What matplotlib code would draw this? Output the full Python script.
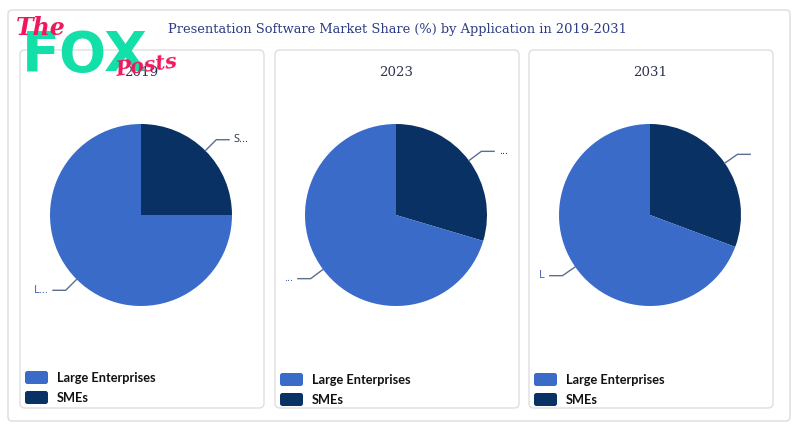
import matplotlib.pyplot as plt
from matplotlib.patches import FancyBboxPatch
import numpy as np

title = 'Presentation Software Market Share (%) by Application in 2019-2031'
years = ['2019', '2023', '2031']
segments = ['SMEs', 'Large Enterprises']
smes = [25, 29.6, 30.7]
large = [75, 70.4, 69.3]
# truncated slice labels as they appear in each panel
sme_labels = ['S...', '...', '']
large_labels = ['L...', '...', 'L']

c_large = '#3a6bc9'
c_sme = '#0a3163'
c_title = '#2b3b85'
c_line = '#5b6e8e'

W, H = 800, 434
fig = plt.figure(figsize=(W / 100, H / 100), dpi=100)


def px(x, y, w, h):
    # pixel box (top-left origin) -> figure fraction
    return [x / W, 1 - (y + h) / H, w / W, h / H]


bg = fig.add_axes([0, 0, 1, 1])
bg.set_xlim(0, W)
bg.set_ylim(H, 0)
bg.axis('off')
bg.add_patch(FancyBboxPatch((8, 10), 782, 411, boxstyle='round,pad=0,rounding_size=4',
                            fc='white', ec='#dcdcdc', lw=1))
panel_x = [20, 275, 529]
for x0 in panel_x:
    bg.add_patch(FancyBboxPatch((x0, 50), 244, 358, boxstyle='round,pad=0,rounding_size=5',
                                fc='white', ec='#dedede', lw=1))
bg.text(397, 30, title, ha='center', va='center', fontsize=9.4,
        family='DejaVu Serif', color=c_title)

for i, x0 in enumerate(panel_x):
    cx, cy = x0 + 121, 215
    bg.text(cx, 72, years[i], ha='center', va='center', fontsize=9.6,
            family='DejaVu Serif', color='#2d3550')
    size = 240
    ax = fig.add_axes(px(cx - size / 2, cy - size / 2, size, size))
    lim = size / 2 / 91
    wedges, _ = ax.pie([smes[i], large[i]], colors=[c_sme, c_large], startangle=90,
                       counterclock=False, radius=1)
    ax.set_xlim(-lim, lim)
    ax.set_ylim(-lim, lim)
    ax.set_aspect('equal')
    ax.axis('off')
    for w, lab, tc in zip(wedges, [sme_labels[i], large_labels[i]], ['#2a3140', '#3a5fb5']):
        ang = np.deg2rad((w.theta1 + w.theta2) / 2)
        x1, y1 = np.cos(ang), np.sin(ang)
        x2, y2 = 1.17 * x1, 1.17 * y1
        sgn = 1 if x1 >= 0 else -1
        x3 = x2 + sgn * 0.14
        ax.plot([x1, x2, x3], [y1, y2, y2], color=c_line, lw=1, clip_on=False)
        if lab:
            ax.text(x3 + sgn * 0.05, y2, lab, ha='left' if sgn > 0 else 'right',
                    va='center', fontsize=8, color=tc, family='Open Sans')
    # legend
    lx = x0 + 5
    for j, (name, col) in enumerate([('Large Enterprises', c_large), ('SMEs', c_sme)]):
        ly = 377 + j * 20 + (2 if i else 0)
        bg.add_patch(FancyBboxPatch((lx, ly - 6), 23, 13, boxstyle='round,pad=0,rounding_size=2.5',
                                    fc=col, ec='none'))
        bg.text(lx + 32, ly + 0.5, name, ha='left', va='center', fontsize=9.2,
                fontweight='bold', family='Lato', color='#111111')

# watermark logo
bg.text(16, 28, 'The', fontsize=17, color='#f0185c', style='italic', fontweight='bold',
        family='DejaVu Serif', va='center', ha='left', zorder=10)
bg.text(22, 56, 'FOX', fontsize=40, color='#13e0a8', fontweight='bold',
        family='DejaVu Sans', va='center', ha='left', zorder=9)
bg.text(114, 66, 'Posts', fontsize=15, color='#f0185c', style='italic', fontweight='bold',
        family='DejaVu Serif', va='center', ha='left', zorder=10, rotation=8)

fig.savefig('out.png', dpi=100)
